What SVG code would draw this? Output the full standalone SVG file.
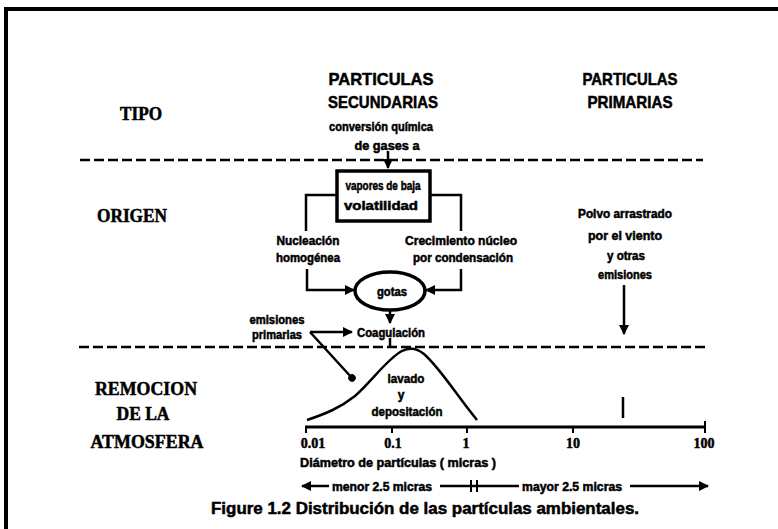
<svg xmlns="http://www.w3.org/2000/svg" width="778" height="529" viewBox="0 0 778 529">
<defs>
<style>
.ser{font-family:"Liberation Serif","Times New Roman",serif;font-weight:bold;font-size:18px;fill:#000;stroke:#000;stroke-width:0.5}
.sans{font-family:"Liberation Sans",Arial,sans-serif;font-weight:bold;fill:#000;stroke:#000;stroke-width:0.5}
.hd{font-size:17px}
.sm{font-size:12px}
.ax{font-size:14px}
.ln{stroke:#000;stroke-width:2.5;fill:none}
.dash{stroke:#000;stroke-width:2.6;stroke-dasharray:10 4;fill:none}
</style>
<marker id="ah" viewBox="0 0 10 10" refX="9" refY="5" markerWidth="4" markerHeight="4" orient="auto" markerUnits="strokeWidth">
<path d="M0,0 L10,5 L0,10 z" fill="#000"/>
</marker>
<marker id="dot" viewBox="0 0 10 10" refX="5" refY="5" markerWidth="3" markerHeight="3" orient="auto" markerUnits="strokeWidth">
<circle cx="5" cy="5" r="5" fill="#000"/>
</marker>
</defs>
<rect width="778" height="529" fill="#fff"/>
<g id="frame">
<line x1="4" y1="9" x2="778" y2="9" stroke="#000" stroke-width="4"/>
<line x1="6" y1="7" x2="6" y2="529" stroke="#000" stroke-width="4"/>
</g>
<g id="separators">
<line class="dash" x1="80" y1="160" x2="703" y2="160"/>
<line class="dash" x1="79" y1="347" x2="705" y2="347"/>
</g>
<g id="row-labels">
<text class="ser" x="141" y="120" text-anchor="middle" textLength="42" lengthAdjust="spacingAndGlyphs">TIPO</text>
<text class="ser" x="132" y="222" text-anchor="middle" textLength="70" lengthAdjust="spacingAndGlyphs">ORIGEN</text>
<text class="ser" x="146" y="395" text-anchor="middle" textLength="102" lengthAdjust="spacingAndGlyphs">REMOCION</text>
<text class="ser" x="143" y="420" text-anchor="middle" textLength="53" lengthAdjust="spacingAndGlyphs">DE LA</text>
<text class="ser" x="147" y="448" text-anchor="middle" textLength="113" lengthAdjust="spacingAndGlyphs">ATMOSFERA</text>
</g>
<g id="tipo-secundarias">
<text class="sans hd" x="381" y="85" text-anchor="middle" textLength="105" lengthAdjust="spacingAndGlyphs">PARTICULAS</text>
<text class="sans hd" x="383" y="108" text-anchor="middle" textLength="110" lengthAdjust="spacingAndGlyphs">SECUNDARIAS</text>
<text class="sans sm" x="381" y="131" text-anchor="middle" textLength="104" lengthAdjust="spacingAndGlyphs">conversión química</text>
<text class="sans sm" x="387" y="150" text-anchor="middle" textLength="65" lengthAdjust="spacingAndGlyphs">de gases a</text>
</g>
<g id="tipo-primarias">
<text class="sans hd" x="630" y="85" text-anchor="middle" textLength="95" lengthAdjust="spacingAndGlyphs">PARTICULAS</text>
<text class="sans hd" x="630" y="108" text-anchor="middle" textLength="85" lengthAdjust="spacingAndGlyphs">PRIMARIAS</text>
</g>
<g id="vapores">
<rect x="337" y="171" width="93" height="50" fill="none" stroke="#000" stroke-width="3.5"/>
<text class="sans sm" x="383" y="190" text-anchor="middle" textLength="75" lengthAdjust="spacingAndGlyphs">vapores de baja</text>
<text class="sans sm" x="381" y="210" text-anchor="middle" textLength="74" lengthAdjust="spacingAndGlyphs">volatilidad</text>
</g>
<g id="nucleacion">
<text class="sans sm" x="308" y="245" text-anchor="middle" textLength="63" lengthAdjust="spacingAndGlyphs">Nucleación</text>
<text class="sans sm" x="308" y="262" text-anchor="middle" textLength="64" lengthAdjust="spacingAndGlyphs">homogénea</text>
</g>
<g id="crecimiento">
<text class="sans sm" x="461" y="245" text-anchor="middle" textLength="112" lengthAdjust="spacingAndGlyphs">Crecimiento núcleo</text>
<text class="sans sm" x="463" y="262" text-anchor="middle" textLength="100" lengthAdjust="spacingAndGlyphs">por condensación</text>
</g>
<g id="gotas">
<ellipse cx="390" cy="291" rx="35" ry="19" fill="none" stroke="#000" stroke-width="3.5"/>
<text class="sans sm" x="392" y="296" text-anchor="middle" textLength="30" lengthAdjust="spacingAndGlyphs">gotas</text>
</g>
<g id="coagulacion">
<text class="sans sm" x="391" y="337" text-anchor="middle" textLength="68" lengthAdjust="spacingAndGlyphs">Coagulación</text>
</g>
<g id="emisiones-primarias">
<text class="sans sm" x="277" y="324" text-anchor="middle" textLength="55" lengthAdjust="spacingAndGlyphs">emisiones</text>
<text class="sans sm" x="277" y="339" text-anchor="middle" textLength="50" lengthAdjust="spacingAndGlyphs">primarias</text>
</g>
<g id="polvo">
<text class="sans sm" x="625" y="218" text-anchor="middle" textLength="94" lengthAdjust="spacingAndGlyphs">Polvo arrastrado</text>
<text class="sans sm" x="625" y="240" text-anchor="middle" textLength="74" lengthAdjust="spacingAndGlyphs">por el viento</text>
<text class="sans sm" x="626" y="260" text-anchor="middle" textLength="38" lengthAdjust="spacingAndGlyphs">y otras</text>
<text class="sans sm" x="625" y="279" text-anchor="middle" textLength="54" lengthAdjust="spacingAndGlyphs">emisiones</text>
</g>
<g id="lavado">
<text class="sans sm" x="406" y="383" text-anchor="middle" textLength="37" lengthAdjust="spacingAndGlyphs">lavado</text>
<text class="sans sm" x="401" y="399" text-anchor="middle">y</text>
<text class="sans sm" x="407" y="416" text-anchor="middle" textLength="71" lengthAdjust="spacingAndGlyphs">depositación</text>
</g>
<g id="axis">
<line x1="305" y1="427" x2="706" y2="427" stroke="#000" stroke-width="3"/>
<g stroke="#000" stroke-width="2">
<line x1="306" y1="427" x2="306" y2="433"/>
<line x1="392" y1="427" x2="392" y2="433"/>
<line x1="467" y1="427" x2="467" y2="433"/>
<line x1="573" y1="427" x2="573" y2="433"/>
<line x1="705" y1="421" x2="705" y2="433"/>
</g>
<text class="ser ax" x="313" y="448" text-anchor="middle">0.01</text>
<text class="ser ax" x="393" y="448" text-anchor="middle">0.1</text>
<text class="ser ax" x="466" y="448" text-anchor="middle">1</text>
<text class="ser ax" x="573" y="448" text-anchor="middle">10</text>
<text class="ser ax" x="704" y="448" text-anchor="middle">100</text>
<text class="sans sm" x="300" y="467" textLength="196" lengthAdjust="spacingAndGlyphs">Diámetro de partículas ( micras )</text>
</g>
<g id="size-ranges">
<text class="sans sm" x="382" y="491" text-anchor="middle" textLength="100" lengthAdjust="spacingAndGlyphs">menor 2.5 micras</text>
<text class="sans sm" x="572" y="491" text-anchor="middle" textLength="100" lengthAdjust="spacingAndGlyphs">mayor 2.5 micras</text>
</g>
<g id="caption">
<text class="sans" font-size="16" x="211" y="514" textLength="428" lengthAdjust="spacingAndGlyphs">Figure 1.2  Distribución de las partículas ambientales.</text>
</g>
<g id="connectors">
<line class="ln" x1="388" y1="151" x2="388" y2="168" marker-end="url(#ah)"/>
<polyline class="ln" points="337,195 306,195 306,231"/>
<polyline class="ln" points="430,195 461,195 461,231"/>
<polyline class="ln" points="307,269 307,290 354,290" marker-end="url(#ah)"/>
<polyline class="ln" points="461,269 461,290 426,290" marker-end="url(#ah)"/>
<line class="ln" x1="390" y1="310" x2="390" y2="323" marker-end="url(#ah)"/>
<line class="ln" x1="390" y1="338" x2="390" y2="347"/>
<line class="ln" x1="310" y1="332" x2="352" y2="332" marker-end="url(#ah)"/>
<line class="ln" x1="310" y1="332" x2="352" y2="378" marker-end="url(#dot)"/>
<line class="ln" x1="624" y1="285" x2="624" y2="334" marker-end="url(#ah)"/>
<line x1="623" y1="397" x2="623" y2="418" stroke="#000" stroke-width="2.5"/>
<path class="ln" d="M307,420 C325,414 340,408 355,396 C372,381 388,358 402,351 C410,347 418,349 424,354 C440,368 455,393 477,420"/>
<line class="ln" x1="329" y1="486" x2="302" y2="486" marker-end="url(#ah)"/>
<line class="ln" x1="440" y1="486" x2="519" y2="486"/>
<line x1="471" y1="480" x2="471" y2="492" stroke="#000" stroke-width="2"/>
<line x1="477" y1="480" x2="477" y2="492" stroke="#000" stroke-width="2"/>
<line class="ln" x1="630" y1="486" x2="708" y2="486" marker-end="url(#ah)"/>
</g>
</svg>
